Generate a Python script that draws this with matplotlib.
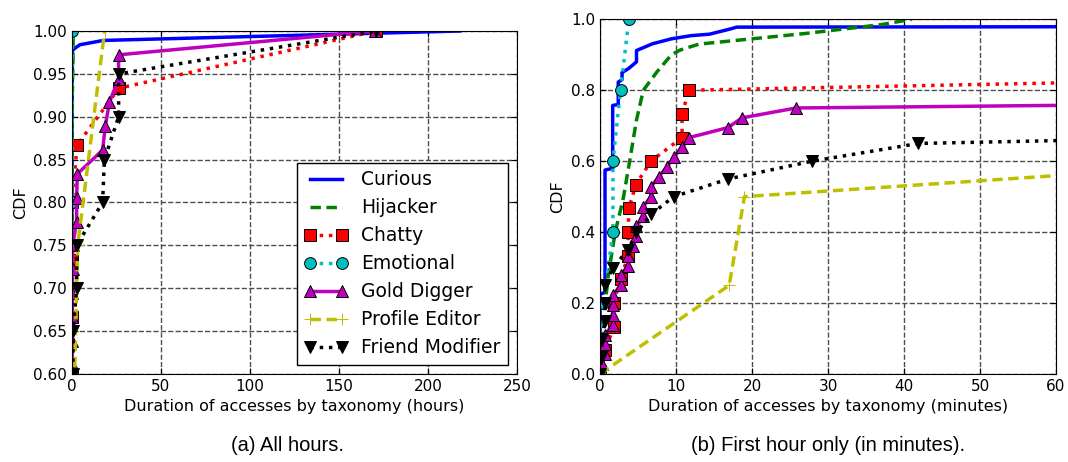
import matplotlib
matplotlib.use("Agg")
import numpy as np
import matplotlib.pyplot as plt

# access durations (minutes) and CDF values per attacker taxonomy
curious_x = [0, 0, 0.66, 0.66, 1.67, 1.67, 2.4, 2.4, 2.9, 2.9, 3.75, 4.8, 4.8, 6.9, 9.4, 12, 14.4, 17, 18, 60, 270, 1056, 13080]
curious_y = [0, 0.225, 0.23, 0.575, 0.58, 0.757, 0.76, 0.823, 0.83, 0.85, 0.861, 0.88, 0.912, 0.931, 0.945, 0.954, 0.958, 0.972, 0.978, 0.979, 0.984, 0.989, 1.0]

hijacker_x = [0, 0.4, 0.7, 1.1, 2.0, 2.9, 3.1, 3.9, 4.8, 5.7, 7.5, 9.4, 10.5, 13, 20, 27, 33, 37, 41]
hijacker_y = [0, 0.11, 0.2, 0.28, 0.4, 0.48, 0.5, 0.6, 0.716, 0.8, 0.852, 0.9, 0.913, 0.93, 0.945, 0.96, 0.975, 0.985, 1.0]

chatty_x = [0, 0.7, 1.8, 1.8, 2.7, 3.7, 3.7, 3.8, 4.7, 6.7, 10.8, 10.8, 11.7, 168, 1584, 10260]
chatty_y = [k / 15 for k in range(16)]

emotional_x = [0, 0.45, 1.7, 1.7, 2.7, 3.8]
emotional_y = [0, 0.2, 0.4, 0.6, 0.8, 1.0]

gold_x = [0, 0.3, 0.66, 0.66, 0.66, 1.67, 1.67, 1.67, 1.67, 2.7, 2.7, 3.7, 3.7, 4.3, 4.8, 4.8,
          5.7, 5.7, 6.7, 6.7, 7.7, 8.8, 9.7, 10.8, 11.75, 16.8, 18.7, 25.8,
          156, 156, 180, 1032, 1122, 1260, 1572, 1572, 10200]
gold_y = [k / 36 for k in range(37)]

profile_x = [0, 17, 19, 192, 1100]
profile_y = [0, 0.25, 0.5, 0.75, 1.0]

friend_x = [0, 0.2, 0.3, 0.66, 0.66, 0.66, 1.67, 3.7, 4.8, 6.7, 9.7, 16.9, 27.9, 41.9,
            156, 156, 1032, 1092, 1572, 1572, 10260]
friend_y = [k / 20 for k in range(21)]

dashed = (0, (3, 1.6))
series = [
    ("Curious", curious_x, curious_y, dict(color="b", ls="-")),
    ("Hijacker", hijacker_x, hijacker_y, dict(color="g", ls=dashed)),
    ("Chatty", chatty_x, chatty_y, dict(color="r", ls=":", marker="s", mfc="r")),
    ("Emotional", emotional_x, emotional_y, dict(color="c", ls=":", marker="o", mfc="c")),
    ("Gold Digger", gold_x, gold_y, dict(color="m", ls="-", marker="^", mfc="m")),
    ("Profile Editor", profile_x, profile_y, dict(color="y", ls=dashed, marker="+", mec="y")),
    ("Friend Modifier", friend_x, friend_y, dict(color="k", ls=":", marker="v", mfc="k")),
]

fig = plt.figure(figsize=(10.68, 4.62), dpi=100)
ax1 = fig.add_axes([0.0674, 0.1905, 0.4167, 0.7424])
ax2 = fig.add_axes([0.5618, 0.1905, 0.4270, 0.7677])


def draw(ax, scale):
    for name, x, y, st in series:
        st = dict(st)
        if "mec" not in st:
            st["mec"] = "k"
        ax.plot(np.array(x) / scale, y, label=name, lw=2.5, ms=8.5, mew=0.7, **st)
    ax.grid(True, color="0.3", ls="--", lw=1)
    ax.tick_params(direction="in", top=True, right=True, labelsize=11, length=4)
    ax.set_ylabel("CDF", fontsize=11.5)


# (a) whole range, in hours
draw(ax1, 60.0)
ax1.set_xlim(0, 250)
ax1.set_ylim(0.6, 1.0)
ax1.set_yticks(np.arange(0.6, 1.001, 0.05))
ax1.set_yticklabels(["%.2f" % v for v in np.arange(0.6, 1.001, 0.05)])
ax1.set_xlabel("Duration of accesses by taxonomy (hours)", fontsize=11.5)
leg = ax1.legend(loc="lower right", fontsize=13.5, numpoints=2, fancybox=False,
                 framealpha=1, edgecolor="k", borderaxespad=0.5, labelspacing=0.48,
                 handlelength=2.3, handletextpad=0.7)
leg.get_frame().set_linewidth(1)

# (b) first hour, in minutes
draw(ax2, 1.0)
ax2.set_xlim(0, 60)
ax2.set_ylim(0, 1.0)
ax2.set_yticks(np.arange(0, 1.001, 0.2))
ax2.set_yticklabels(["%.1f" % v for v in np.arange(0, 1.001, 0.2)])
ax2.set_xlabel("Duration of accesses by taxonomy (minutes)", fontsize=11.5)

fig.text(0.269, 0.035, "(a) All hours.", ha="center", va="center",
         fontsize=14.5, family="Liberation Sans")
fig.text(0.775, 0.035, "(b) First hour only (in minutes).", ha="center", va="center",
         fontsize=14.5, family="Liberation Sans")

fig.savefig("out.png", dpi=100)
